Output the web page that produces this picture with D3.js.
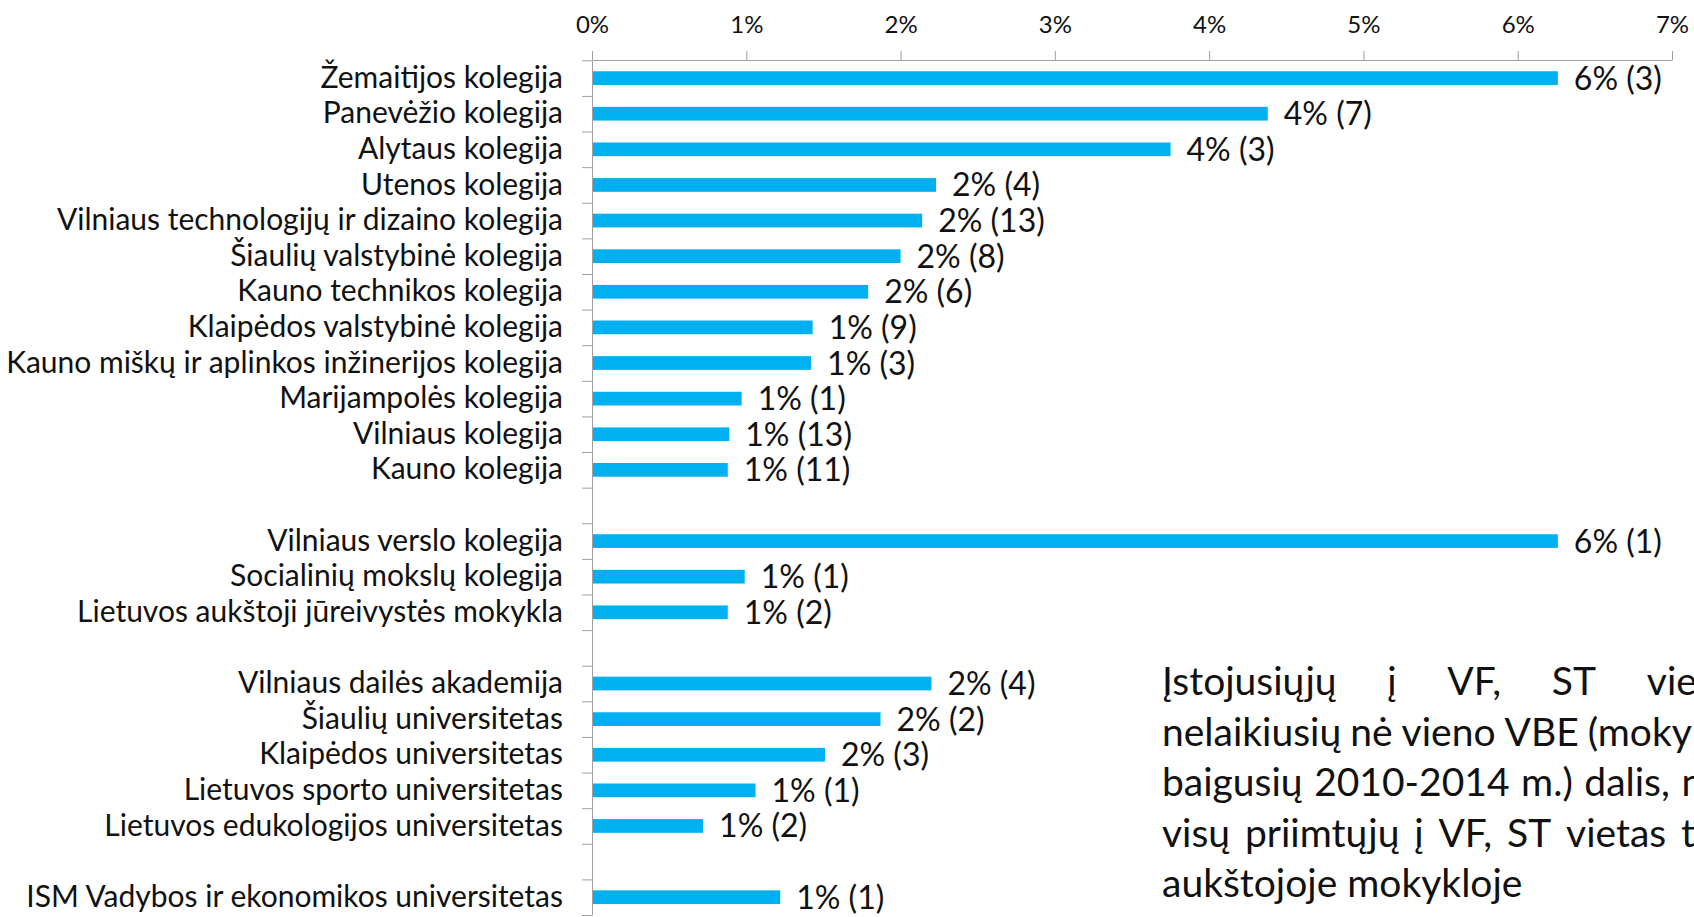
<!DOCTYPE html>
<html>
<head>
<meta charset="utf-8">
<script src="https://cdn.jsdelivr.net/npm/d3@7"></script>
<style>
  body { margin: 0; background: #fff; }
  svg { display: block; font-family: Lato, "Open Sans", sans-serif; }
  .axis path, .axis line { stroke: #a0a0a0; }
  .axis text { fill: #111; font-family: Lato, "Open Sans", sans-serif; }
</style>
</head>
<body>
<svg id="chart" width="1694" height="917"></svg>
<script>
// Institutions top to bottom, "" marks the empty row between groups
const institutions = [
  "Žemaitijos kolegija",
  "Panevėžio kolegija",
  "Alytaus kolegija",
  "Utenos kolegija",
  "Vilniaus technologijų ir dizaino kolegija",
  "Šiaulių valstybinė kolegija",
  "Kauno technikos kolegija",
  "Klaipėdos valstybinė kolegija",
  "Kauno miškų ir aplinkos inžinerijos kolegija",
  "Marijampolės kolegija",
  "Vilniaus kolegija",
  "Kauno kolegija",
  "",
  "Vilniaus verslo kolegija",
  "Socialinių mokslų kolegija",
  "Lietuvos aukštoji jūreivystės mokykla",
  "",
  "Vilniaus dailės akademija",
  "Šiaulių universitetas",
  "Klaipėdos universitetas",
  "Lietuvos sporto universitetas",
  "Lietuvos edukologijos universitetas",
  "",
  "ISM Vadybos ir ekonomikos universitetas"
];

// share of admitted students (null = gap row)
const shares = [
  0.0626, 0.0438, 0.0375, 0.0223, 0.0214, 0.0200, 0.0179, 0.0143, 0.0142, 0.0097, 0.0089, 0.0088,
  null,
  0.0626, 0.0099, 0.0088,
  null,
  0.0220, 0.0187, 0.0151, 0.0106, 0.0072,
  null,
  0.0122
];

// number of students behind each share
const counts = [
  3, 7, 3, 4, 13, 8, 6, 9, 3, 1, 13, 11,
  null,
  1, 1, 2,
  null,
  4, 2, 3, 1, 2,
  null,
  1
];

const xTicks = [0, 0.01, 0.02, 0.03, 0.04, 0.05, 0.06, 0.07];

const noteLines = [
  "Įstojusiųjų į VF, ST vietas",
  "nelaikiusių nė vieno VBE (mokyklas",
  "baigusių 2010-2014 m.) dalis, nuo",
  "visų priimtųjų į VF, ST vietas toje",
  "aukštojoje mokykloje"
];

const svg = d3.select('#chart');
const pct = d3.format('.0%');

const x = d3.scaleLinear()
    .domain([0, 0.07])
    .range([592, 1672]);

const y = d3.scaleBand()
    .domain(d3.range(institutions.length))
    .range([60.3, 915])
    .paddingInner(0.615)
    .paddingOuter(0.3075);

// row boundaries, used for the little ticks between categories
const yEdge = d3.scaleLinear()
    .domain([0, institutions.length])
    .range([60.3, 915]);

// top axis with percentages
svg.append('g')
    .attr('class', 'axis')
    .attr('transform', 'translate(0,60)')
    .call(d3.axisTop(x)
      .tickValues(xTicks)
      .tickFormat(pct)
      .tickSize(9)
      .tickSizeOuter(0)
      .tickPadding(18))
    .selectAll('text')
    .style('font-size', '24px');

// left axis: line and ticks between rows
svg.append('g')
    .attr('class', 'axis')
    .attr('transform', 'translate(592,0)')
    .call(d3.axisLeft(yEdge)
      .tickValues(d3.range(institutions.length + 1))
      .tickFormat('')
      .tickSize(10)
      .tickSizeOuter(0));

// category labels
const labelAxis = svg.append('g')
    .attr('class', 'axis')
    .attr('transform', 'translate(592,0)')
    .call(d3.axisLeft(y)
      .tickFormat(i => institutions[i])
      .tickSize(0)
      .tickPadding(29));
labelAxis.select('.domain').remove();
labelAxis.selectAll('text').style('font-size', '30px');

const rows = d3.range(institutions.length).filter(i => shares[i] !== null);

// bars
svg.selectAll('.bar')
    .data(rows)
    .enter()
    .append('rect')
    .attr('class', 'bar')
    .attr('x', x(0) + 1)
    .attr('y', i => y(i))
    .attr('width', i => x(shares[i]) - x(0) - 1)
    .attr('height', y.bandwidth())
    .attr('fill', '#00b0f0');

// value labels: "6% (3)"
svg.selectAll('.value')
    .data(rows)
    .enter()
    .append('text')
    .attr('class', 'value')
    .attr('x', i => x(shares[i]) + 16)
    .attr('y', i => y(i) + y.bandwidth() / 2)
    .attr('dy', '0.36em')
    .style('font-size', '32px')
    .style('fill', '#111')
    .text(i => `${pct(shares[i])} (${counts[i]})`);

// note text box, justified like in the slide (runs off the right edge)
const noteLeft = 1162;
const noteWidth = 585;
const note = svg.append('g').style('font-size', '39px').style('fill', '#111');

noteLines.forEach((line, li) => {
  const words = line.split(' ');
  const baseline = 695 + li * 50.6;
  const nodes = words.map(w => note.append('text')
      .attr('y', baseline)
      .text(w));
  const widths = nodes.map(n => n.node().getComputedTextLength());
  const last = li === noteLines.length - 1;
  const gap = last ? 10 : Math.max(9, (noteWidth - d3.sum(widths)) / (words.length - 1));
  let cx = noteLeft;
  nodes.forEach((n, k) => {
    n.attr('x', cx);
    cx += widths[k] + gap;
  });
});
</script>
</body>
</html>
